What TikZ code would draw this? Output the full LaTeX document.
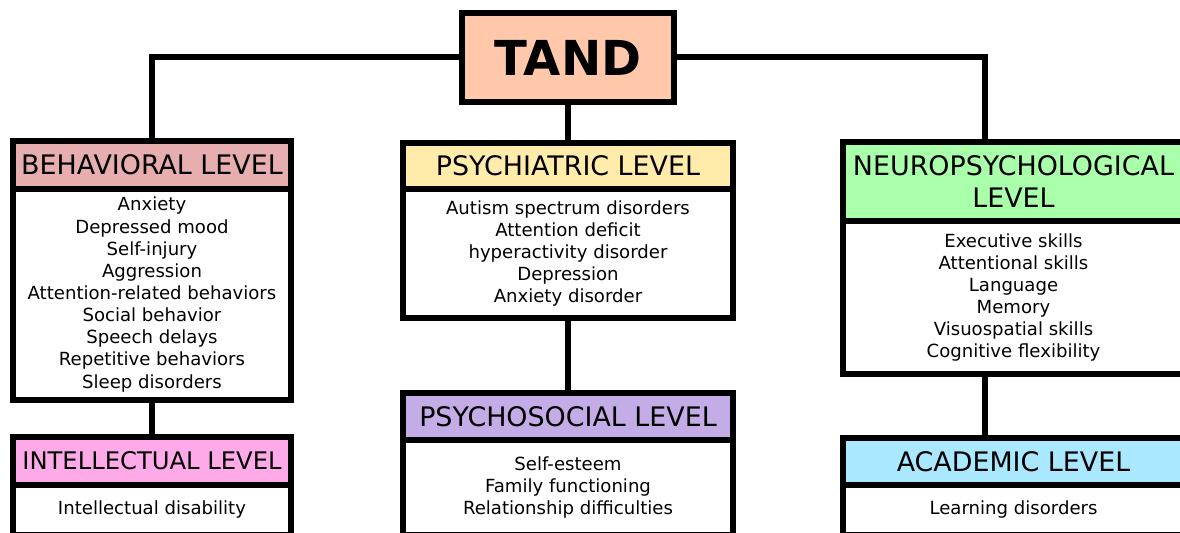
\documentclass[tikz,border=0pt]{standalone}
\usepackage{fontspec}
\setmainfont{DejaVu Sans}
\usetikzlibrary{positioning}
\definecolor{tandcol}{RGB}{255,200,170}
\definecolor{behcol}{RGB}{230,174,174}
\definecolor{psycol}{RGB}{255,236,170}
\definecolor{neucol}{RGB}{170,255,170}
\definecolor{intcol}{RGB}{255,170,232}
\definecolor{soccol}{RGB}{196,172,230}
\definecolor{acacol}{RGB}{170,232,255}

\begin{document}
\begin{tikzpicture}[x=0.02cm,y=-0.02cm,
  box/.style={draw=black, line width=0.12cm, inner sep=0pt, outer sep=0pt, align=center},
  head/.style={box, font=\fontsize{15.3}{18.2}\selectfont},
  body/.style={box, fill=white, font=\fontsize{10.3}{12.6}\selectfont},
  link/.style={line width=0.12cm}]
\useasboundingbox (0,0) rectangle (1180,533);
\clip (0,0) rectangle (1180,533);
% top node
\node[box, fill=tandcol, font=\fontsize{27.4}{30}\selectfont\bfseries,
  minimum width=4.26cm, minimum height=1.78cm, anchor=north] (tand) at (568,13) {TAND};
% left column
\node[head, fill=behcol, minimum width=5.56cm, minimum height=0.96cm, anchor=north] (behav) at (152,141) {BEHAVIORAL LEVEL};
\node[body, minimum width=5.56cm, minimum height=4.22cm, below=0pt of behav] (behavlist)
  {Anxiety\\Depressed mood\\Self-injury\\Aggression\\Attention-related behaviors\\Social behavior\\Speech delays\\Repetitive behaviors\\Sleep disorders};
\node[head, fill=intcol, font=\fontsize{13.8}{18.2}\selectfont, minimum width=5.56cm, minimum height=0.96cm, anchor=north] (intel) at (152,437) {INTELLECTUAL LEVEL};
\node[body, minimum width=5.56cm, minimum height=1.0cm, below=0pt of intel] (intellist) {Intellectual disability};
% middle column
\node[head, fill=psycol, minimum width=6.6cm, minimum height=0.92cm, anchor=north] (psych) at (568,143) {PSYCHIATRIC LEVEL};
\node[body, minimum width=6.6cm, minimum height=2.58cm, below=0pt of psych] (psychlist)
  {Autism spectrum disorders\\Attention deficit\\hyperactivity disorder\\Depression\\Anxiety disorder};
\node[head, fill=soccol, minimum width=6.6cm, minimum height=0.94cm, anchor=north] (psysoc) at (568,393) {PSYCHOSOCIAL LEVEL};
\node[body, minimum width=6.6cm, minimum height=1.9cm, below=0pt of psysoc] (psysoclist)
  {Self-esteem\\Family functioning\\Relationship difficulties};
% right column
\node[head, fill=neucol, minimum width=6.82cm, minimum height=1.58cm, anchor=north] (neuro) at (1013.5,142) {NEUROPSYCHOLOGICAL\\LEVEL};
\node[body, minimum width=6.82cm, minimum height=3.06cm, below=0pt of neuro] (neurolist)
  {Executive skills\\Attentional skills\\Language\\Memory\\Visuospatial skills\\Cognitive flexibility};
\node[head, fill=acacol, minimum width=6.82cm, minimum height=0.94cm, anchor=north] (acad) at (1013.5,438) {ACADEMIC LEVEL};
\node[body, minimum width=6.82cm, minimum height=1.0cm, below=0pt of acad] (acadlist) {Learning disorders};
% connectors
\draw[link] (tand.west) -| (behav.north);
\draw[link] (tand.east) -| ([xshift=-0.58cm]neuro.north);
\draw[link] (tand.south) -- (psych.north);
\draw[link] (behavlist.south) -- (intel.north);
\draw[link] (psychlist.south) -- (psysoc.north);
\draw[link] ([xshift=-0.58cm]neurolist.south) -- ([xshift=-0.58cm]acad.north);
\end{tikzpicture}
\end{document}
